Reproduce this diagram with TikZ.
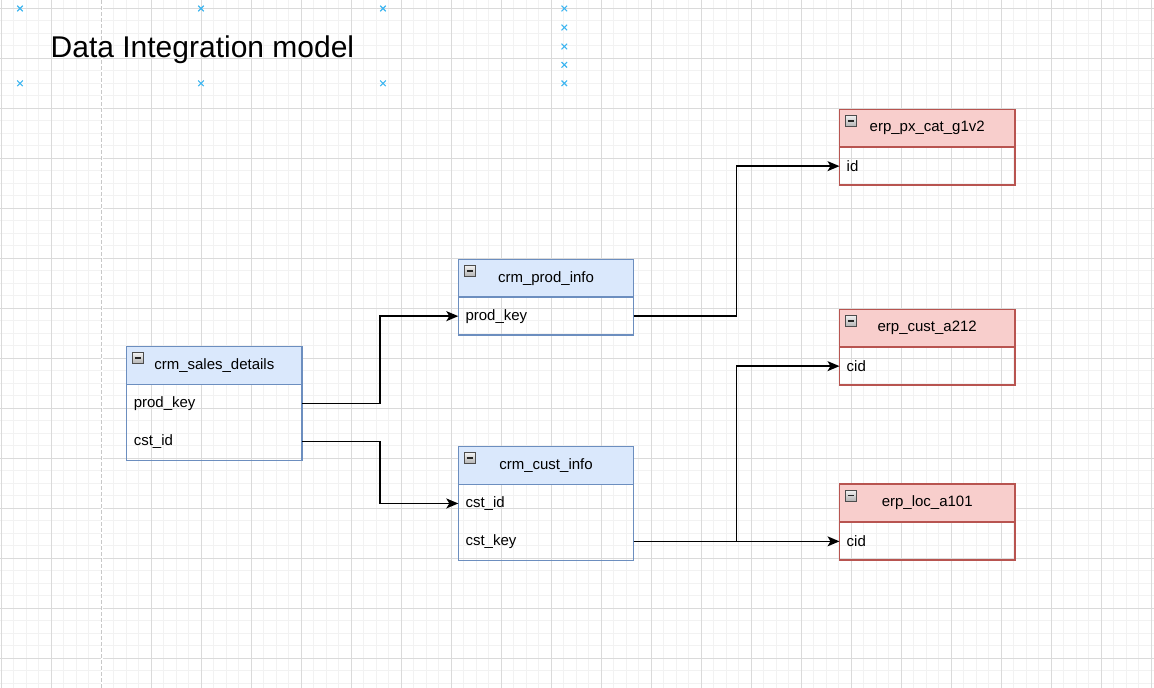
\documentclass[tikz,border=0pt]{standalone}
\usepackage{fontspec}
\setmainfont{Liberation Sans}
\usetikzlibrary{arrows.meta,calc,shapes.misc}
\definecolor{bfill}{HTML}{DAE8FC}
\definecolor{bline}{HTML}{6C8EBF}
\definecolor{rfill}{HTML}{F8CECC}
\definecolor{rline}{HTML}{B85450}
\definecolor{gminorc}{HTML}{F2F2F2}
\definecolor{gmajorc}{HTML}{DADADA}
\definecolor{pagec}{HTML}{C8C8C8}
\definecolor{xblue}{HTML}{3DB5F0}
\tikzset{
  gminor/.style={draw=gminorc, line width=1pt},
  gmajor/.style={draw=gmajorc, line width=1pt},
  pagebreak/.style={draw=pagec, line width=1pt, dash pattern=on 4pt off 2pt},
  xmark/.style={cross out, draw=xblue, minimum size=4.5pt, inner sep=0pt, line width=1.1pt},
  hdr/.style={rectangle, minimum width=175pt, minimum height=37.5pt, inner sep=0pt, anchor=north west, fill=#1, font=\fontsize{15}{18}\selectfont},
  rowbox/.style={rectangle, text width=161pt, inner xsep=7pt, inner ysep=0pt, minimum height=37.5pt, align=left, anchor=north west, font=\fontsize{15}{18}\selectfont},
  border/.style={draw=#1, line width=1.5pt},
  icon/.style={rectangle, minimum size=11pt, inner sep=0pt, draw=gray!60!black, line width=0.8pt, top color=gray!10, bottom color=gray!60,
    path picture={\draw[black!85, line width=1.5pt] ([xshift=2.2pt]path picture bounding box.west) -- ([xshift=-2.2pt]path picture bounding box.east);}},
  conn/.style={draw=black, line width=1.5pt, -{Stealth[length=12pt, width=10pt, inset=3pt]}},
}
\begin{document}
\begin{tikzpicture}[x=1pt, y=-1pt]
\useasboundingbox (0,0) rectangle (1154,688);
\clip (0,0) rectangle (1154,688);
% grid
\foreach \k in {0,...,92} \draw[gminor] ({1.3+12.5*\k},0) -- ({1.3+12.5*\k},688);
\foreach \k in {0,...,54} \draw[gminor] (0,{8.3+12.5*\k}) -- (1154,{8.3+12.5*\k});
\foreach \k in {0,4,...,92} \draw[gmajor] ({1.3+12.5*\k},0) -- ({1.3+12.5*\k},688);
\foreach \k in {0,4,...,52} \draw[gmajor] (0,{8.3+12.5*\k}) -- (1154,{8.3+12.5*\k});
\fill[white] (100.5,0) rectangle (102.5,688);
\draw[pagebreak] (101.5,0) -- (101.5,688);
% marks
\foreach \x/\y [count=\i] in {20/8.5,201/8.5,383/8.5,564.3/8.5,564.3/27.5,564.3/46.5,564.3/64.8,20/83.3,201/83.3,383/83.3,564.3/83.3}
  \node[xmark] (m\i) at (\x,\y) {};
% title
\node[anchor=base west, inner sep=0pt, font=\fontsize{30}{36}\selectfont] (title) at (50.5,57) {Data Integration model};

% crm_sales_details
\node[hdr=bfill] (sd-h) at (126.6,346.6) {crm\_sales\_details};
\node[rowbox] (sd-r1) at (sd-h.south west) {prod\_key};
\node[rowbox] (sd-r2) at (sd-r1.south west) {cst\_id};
\draw[border=bline] (sd-h.south west) -- (sd-h.south east);
\draw[border=bline] (sd-h.north west) rectangle (sd-r2.south east);
\node[icon] (sd-i) at ($(sd-h.north west)+(11.5,11.5)$) {};

% crm_prod_info
\node[hdr=bfill] (pi-h) at (458.3,259.3) {crm\_prod\_info};
\node[rowbox] (pi-r1) at (pi-h.south west) {prod\_key};
\draw[border=bline] (pi-h.south west) -- (pi-h.south east);
\draw[border=bline] (pi-h.north west) rectangle (pi-r1.south east);
\node[icon] (pi-i) at ($(pi-h.north west)+(11.5,11.5)$) {};

% crm_cust_info
\node[hdr=bfill] (ci-h) at (458.3,446.6) {crm\_cust\_info};
\node[rowbox] (ci-r1) at (ci-h.south west) {cst\_id};
\node[rowbox] (ci-r2) at (ci-r1.south west) {cst\_key};
\draw[border=bline] (ci-h.south west) -- (ci-h.south east);
\draw[border=bline] (ci-h.north west) rectangle (ci-r2.south east);
\node[icon] (ci-i) at ($(ci-h.north west)+(11.5,11.5)$) {};

% erp_px_cat_g1v2
\node[hdr=rfill] (px-h) at (839.5,109.3) {erp\_px\_cat\_g1v2};
\node[rowbox] (px-r1) at (px-h.south west) {id};
\draw[border=rline] (px-h.south west) -- (px-h.south east);
\draw[border=rline] (px-h.north west) rectangle (px-r1.south east);
\node[icon] (px-i) at ($(px-h.north west)+(11.5,11.5)$) {};

% erp_cust_a212
\node[hdr=rfill] (ca-h) at (839.5,309.3) {erp\_cust\_a212};
\node[rowbox] (ca-r1) at (ca-h.south west) {cid};
\draw[border=rline] (ca-h.south west) -- (ca-h.south east);
\draw[border=rline] (ca-h.north west) rectangle (ca-r1.south east);
\node[icon] (ca-i) at ($(ca-h.north west)+(11.5,11.5)$) {};

% erp_loc_a101
\node[hdr=rfill] (lo-h) at (839.5,484.1) {erp\_loc\_a101};
\node[rowbox] (lo-r1) at (lo-h.south west) {cid};
\draw[border=rline] (lo-h.south west) -- (lo-h.south east);
\draw[border=rline] (lo-h.north west) rectangle (lo-r1.south east);
\node[icon] (lo-i) at ($(lo-h.north west)+(11.5,11.5)$) {};

% connectors
\draw[conn] (sd-r1.east) -| ($(sd-r1.east)!.5!(pi-r1.west)$) |- (pi-r1.west);
\draw[conn] (sd-r2.east) -| ($(sd-r2.east)!.5!(ci-r1.west)$) |- (ci-r1.west);
\draw[conn] (pi-r1.east) -| ($(pi-r1.east)!.5!(px-r1.west)$) |- (px-r1.west);
\draw[conn] (ci-r2.east) -| ($(ci-r2.east)!.5!(ca-r1.west)$) |- (ca-r1.west);
\draw[conn] (ci-r2.east) -- (ci-r2.east -| lo-r1.west);
\end{tikzpicture}
\end{document}
